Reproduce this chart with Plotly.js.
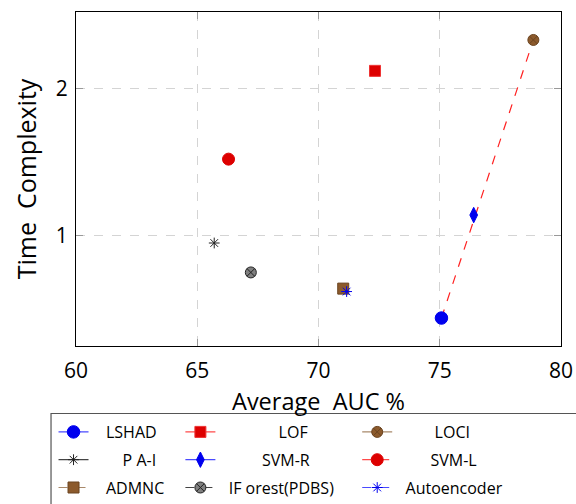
<!DOCTYPE html>
<html><head><meta charset="utf-8">
<script src="https://cdn.plot.ly/plotly-3.0.1.min.js"></script>
<style>body{margin:0;padding:0;background:#fff}#chart{width:576px;height:504px}</style>
</head><body><div id="chart"></div>
<script>
// Data
const methods = ["LSHAD","LOF","LOCI","P A-I","SVM-R","SVM-L","ADMNC","IF orest(PDBS)","Autoencoder"];
const aucValues = [75.07, 72.33, 78.86, 65.70, 76.40, 66.29, 71.02, 67.21, 71.16];
const timeValues = [0.44, 2.12, 2.33, 0.95, 1.14, 1.52, 0.64, 0.75, 0.62];
const frontX = [75.07, 78.86];
const frontY = [0.44, 2.33];
const xTicks = [60, 65, 70, 75, 80];
const yTicks = [1, 2];

const styles = [
  {sym:"circle", size:12.5, fill:"#0000ee", edge:"#0000ee", lc:"#4a4aff", dash:"solid", pad:3, lg:"legend"},
  {sym:"square", size:11, fill:"#dd0000", edge:"#ee3333", lc:"#ff4a4a", dash:"solid", pad:14, lg:"legend2"},
  {sym:"circle-x", size:11, fill:"#8c5a2c", edge:"#6b4420", lc:"#a8896a", dash:"solid", pad:9, lg:"legend3"},
  {sym:"asterisk-open", size:9, fill:"#222", edge:"#222", lc:"#444", dash:"solid", pad:7, lg:"legend"},
  {sym:"diamond-tall", size:11, fill:"#0000ee", edge:"#0000ee", lc:"#4a4aff", dash:"solid", pad:10, lg:"legend2"},
  {sym:"circle", size:12, fill:"#dd0000", edge:"#dd0000", lc:"#ff4a4a", dash:"dash", pad:8, lg:"legend3"},
  {sym:"square", size:11, fill:"#8c5a2c", edge:"#6b4420", lc:"#a8896a", dash:"dash", pad:3, lg:"legend"},
  {sym:"circle-x", size:11, fill:"#808080", edge:"#222", lc:"#444", dash:"dash", pad:2, lg:"legend2"},
  {sym:"asterisk-open", size:9, fill:"#0000ee", edge:"#0000ee", lc:"#4a4aff", dash:"dash", pad:2, lg:"legend3"}
];

const nb = n => "\u00a0".repeat(n);
const traces = [];
traces.push({x:frontX, y:frontY, mode:"lines", showlegend:false,
  line:{color:"#ff2020", dash:"dash", width:1.2}, hoverinfo:"skip"});
methods.forEach((m,i)=>{
  const s = styles[i];
  traces.push({
    x:[aucValues[i]], y:[timeValues[i]], mode:"lines+markers", name: nb(s.pad)+m,
    legend:s.lg, legendgroup:"g"+i,
    marker:{symbol:s.sym, size:s.size, color:s.fill, line:{color:s.edge, width:1}},
    line:{color:s.lc, dash:s.dash, width:1.2}
  });
});

const W = 576, H = 504, L = 75.5, R = 561, T = 12, B = 346;
const px = v => (v - L)/(R - L);
const py = v => (B - v)/(B - T);
const legFont = {family:"Open Sans, sans-serif", size:16, color:"#000"};
const legBase = {orientation:"v", bgcolor:"rgba(0,0,0,0)", borderwidth:0, font:legFont,
  xanchor:"left", yanchor:"top", tracegroupgap:4, itemclick:false};

const layout = {
  width:W, height:H,
  margin:{l:L, r:W-R, t:T, b:H-B, pad:0, autoexpand:false},
  paper_bgcolor:"#fff", plot_bgcolor:"#fff",
  font:{family:"Open Sans, sans-serif", color:"#000"},
  showlegend:true,
  xaxis:{range:[60,80], tickvals:xTicks, ticktext:xTicks.map(String),
    showline:true, linecolor:"#000", linewidth:1, mirror:"ticks",
    ticks:"inside", ticklen:7, tickcolor:"#999",
    showgrid:true, gridcolor:"#d4d4d4", griddash:"dash", gridwidth:1,
    zeroline:false, tickfont:{size:21}, ticklabelstandoff:6,
    title:{text:"Average  AUC %", font:{size:23.5}, standoff:10}},
  yaxis:{range:[0.25,2.52], tickvals:yTicks, ticktext:yTicks.map(String),
    showline:true, linecolor:"#000", linewidth:1, mirror:"ticks",
    ticks:"inside", ticklen:7, tickcolor:"#999",
    showgrid:true, gridcolor:"#d4d4d4", griddash:"dash", gridwidth:1,
    zeroline:false, tickfont:{size:21}, ticklabelstandoff:3,
    title:{text:"Time  Complexity", font:{size:25}, standoff:12}},
  legend: Object.assign({}, legBase, {x:px(53), y:py(415)}),
  legend2: Object.assign({}, legBase, {x:px(180), y:py(415)}),
  legend3: Object.assign({}, legBase, {x:px(357), y:py(415)}),
  shapes:[{type:"rect", xref:"paper", yref:"paper", x0:px(50.5), x1:px(600), y0:py(413.5), y1:py(540),
    line:{color:"#555", width:1.2}, fillcolor:"rgba(0,0,0,0)", layer:"below"}]
};

Plotly.newPlot("chart", traces, layout, {staticPlot:true, displayModeBar:false});
</script></body></html>
